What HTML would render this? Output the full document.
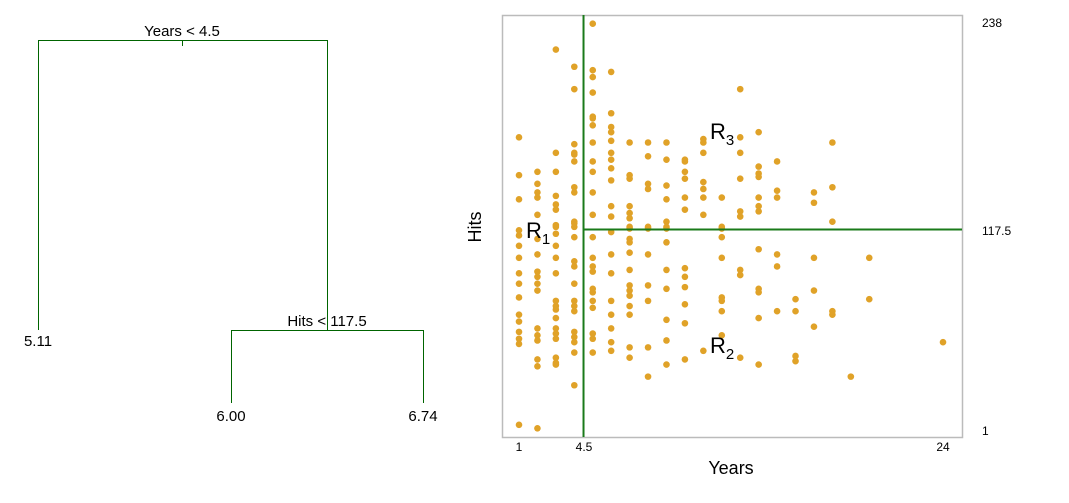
<!DOCTYPE html>
<html><head><meta charset="utf-8"><style>
html,body{margin:0;padding:0;background:#fff;}
svg{display:block;font-family:"Liberation Sans",Arial,sans-serif;}
</style></head><body>
<svg id="fig" width="1069" height="503" viewBox="0 0 1069 503" xmlns="http://www.w3.org/2000/svg">
<g id="tree" stroke="#006400" stroke-width="1" fill="none">
  <path d="M38.5,330 V40.5 H327.5 V330"/>
  <path d="M182.5,40 V46"/>
  <path d="M231.5,403 V330.5 H423.5 V403"/>
</g>
<g font-size="15" fill="#000" text-anchor="middle">
  <text x="182" y="36">Years &lt; 4.5</text>
  <text x="327" y="326">Hits &lt; 117.5</text>
  <text x="38" y="346">5.11</text>
  <text x="231" y="421">6.00</text>
  <text x="423" y="421">6.74</text>
</g>
<rect x="502.5" y="15.5" width="460" height="422" fill="none" stroke="#bbb" stroke-width="1.5"/>
<g id="points"></g>
<g id="lines"></g>
<g font-size="12" fill="#000">
  <text x="519" y="451" text-anchor="middle">1</text>
  <text x="584" y="451" text-anchor="middle">4.5</text>
  <text x="943" y="451" text-anchor="middle">24</text>
  <text x="982" y="27">238</text>
  <text x="982" y="235">117.5</text>
  <text x="982" y="435">1</text>
</g>
<text x="731" y="474" font-size="18" text-anchor="middle">Years</text>
<text transform="translate(481,227) rotate(-90)" font-size="18" text-anchor="middle">Hits</text>
<g font-size="22" fill="#000">
  <text x="526" y="238">R<tspan font-size="15" dy="6">1</tspan></text>
  <text x="710" y="353">R<tspan font-size="15" dy="6">2</tspan></text>
  <text x="710" y="139">R<tspan font-size="15" dy="6">3</tspan></text>
</g>
</svg>
<script>
const years = [1,2,3,4,5,6,7,8,9,10,11,12,13,14,15,16,17,18,19,20,24];
const hitsByYear = [
 [171,149,135,117,114,108,101,92,86,78,68,64,58,54,51,4],
 [151,144,139,136,126,112,103,93,90,86,82,60,56,53,42,38,2],
 [222,162,151,137,132,129,120,119,115,108,101,92,76,73,71,66,60,57,54,43,40,39],
 [212,199,167,162,161,157,142,139,122,121,119,113,99,96,86,76,73,70,58,55,52,46,27],
 [237,210,206,197,183,182,178,168,157,151,139,126,113,101,96,93,83,81,76,72,57,54,46],
 [209,185,177,174,169,162,158,153,146,131,125,116,103,92,76,68,60,52,47],
 [168,149,147,131,127,124,119,118,112,110,104,94,85,82,79,73,68,49,43],
 [168,160,144,141,119,118,103,85,76,49,32],
 [168,158,143,135,122,119,118,110,94,83,65,53,39],
 [158,157,151,147,136,129,95,90,84,74,63,42],
 [170,168,162,145,141,136,126,47],
 [136,119,118,113,101,78,76,70,56],
 [199,171,162,147,128,125,94,91,43],
 [174,154,150,148,136,131,128,106,83,81,66,39],
 [157,140,136,103,96,70],
 [77,70,44,41],
 [139,133,101,82,61],
 [168,142,122,70,68],
 [32],
 [101,77],
 [52]
];
const splitYears = 4.5, splitHits = 117.5;
const X0=519, X1=943, Y0=430, Y1=22;
function sx(v){return X0+(v-1)*(X1-X0)/23;}
function sy(v){return Y0-(v-1)*(Y0-Y1)/237;}
const NS="http://www.w3.org/2000/svg";
const g=document.getElementById('points');
years.forEach((yr,i)=>{
  hitsByYear[i].forEach(h=>{
    const c=document.createElementNS(NS,'circle');
    c.setAttribute('cx',sx(yr));c.setAttribute('cy',sy(h));c.setAttribute('r',3.3);
    c.setAttribute('fill','#e0a228');
    
    
    g.appendChild(c);
  });
});
const lg=document.getElementById('lines');
const v=document.createElementNS(NS,'line');
v.setAttribute('x1',sx(splitYears));v.setAttribute('x2',sx(splitYears));v.setAttribute('y1',15);v.setAttribute('y2',437);
v.setAttribute('stroke','#1a7a1a');v.setAttribute('stroke-width',2);


lg.appendChild(v);
const hl=document.createElementNS(NS,'line');
hl.setAttribute('x1',sx(splitYears));hl.setAttribute('x2',962);hl.setAttribute('y1',sy(splitHits));hl.setAttribute('y2',sy(splitHits));
hl.setAttribute('stroke','#1a7a1a');hl.setAttribute('stroke-width',2);


lg.appendChild(hl);
</script>
</body></html>
